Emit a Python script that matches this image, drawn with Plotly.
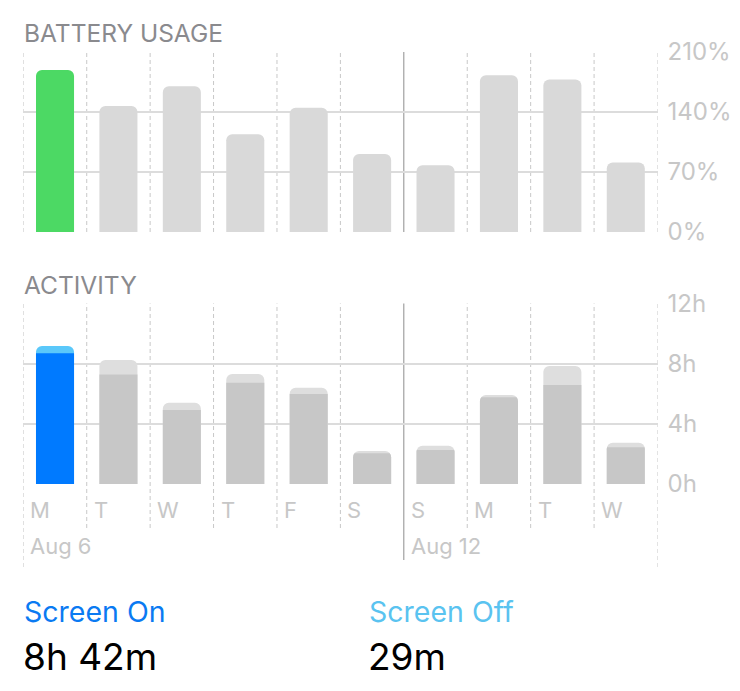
import plotly.graph_objects as go

# Chart data
day_labels = ["M", "T", "W", "T", "F", "S", "S", "M", "T", "W"]
week_labels = ["Aug 6", "Aug 12"]
week_starts = [0, 6]
battery_pct = [189, 147, 170, 114, 145, 91, 78, 183, 178, 81]
screen_on_h = [8.70, 7.28, 4.92, 6.73, 5.98, 2.04, 2.26, 5.76, 6.58, 2.44]
screen_off_h = [0.48, 0.96, 0.48, 0.58, 0.42, 0.15, 0.29, 0.15, 1.26, 0.31]
battery_ticks = [0, 70, 140, 210]
activity_ticks = [0, 4, 8, 12]
selected = 0

# the page body adds an 8px margin, so the figure is drawn that much smaller
# and every pixel position below is measured in window pixels
PAGE_MARGIN = 8
W, H = 740 - PAGE_MARGIN, 691 - PAGE_MARGIN
FONT = "Inter"


def px_y(p):
    return 1 - (p - PAGE_MARGIN) / H


def px_x(p):
    return (p - PAGE_MARGIN) / W


n = len(day_labels)
xs = list(range(n))
total_h = [a + b for a, b in zip(screen_on_h, screen_off_h)]

bat_colors = ["#4CD964" if i == selected else "#D9D9D9" for i in xs]
on_colors = ["#007AFF" if i == selected else "#C7C7C7" for i in xs]
off_colors = ["#5AC8FA" if i == selected else "#DEDEDE" for i in xs]

fig = go.Figure()

fig.add_trace(go.Bar(x=xs, y=battery_pct, marker=dict(color=bat_colors, cornerradius=6, line_width=0),
                     width=0.6, xaxis="x", yaxis="y", hoverinfo="skip"))
fig.add_trace(go.Bar(x=xs, y=total_h, marker=dict(color=off_colors, cornerradius=6, line_width=0),
                     width=0.6, xaxis="x2", yaxis="y2", hoverinfo="skip"))
fig.add_trace(go.Bar(x=xs, y=screen_on_h, marker=dict(color=on_colors, cornerradius=6, line_width=0),
                     width=0.6, xaxis="x2", yaxis="y2", hoverinfo="skip"))

xdom = [px_x(23.3), px_x(657.5)]
grid = "#DCDCDC"
tickfont = dict(family=FONT, size=24, color="#C7C7C7")

fig.update_layout(
    template="none",
    width=W, height=H,
    autosize=False,
    margin=dict(l=0, r=0, t=0, b=0, pad=0, autoexpand=False),
    paper_bgcolor="white", plot_bgcolor="white",
    showlegend=False, barmode="overlay",
    xaxis=dict(domain=xdom, range=[-0.5, n - 0.5], showgrid=False, zeroline=False,
               showticklabels=False, ticks="", showline=False, automargin=False, fixedrange=True),
    xaxis2=dict(domain=xdom, range=[-0.5, n - 0.5], showgrid=False, zeroline=False,
                showticklabels=False, ticks="", showline=False, anchor="y2",
                automargin=False, fixedrange=True),
    yaxis=dict(domain=[px_y(232), px_y(52)], range=[0, 210], side="right",
               tickvals=battery_ticks, ticktext=[f"{v}%" for v in battery_ticks],
               showgrid=True, gridcolor=grid, gridwidth=1.5, zeroline=False, ticks="",
               showline=False, tickfont=tickfont, ticklabelstandoff=9,
               automargin=False, fixedrange=True),
    yaxis2=dict(domain=[px_y(484), px_y(303.5)], range=[0, 12], side="right", anchor="x2",
                tickvals=activity_ticks, ticktext=[f"{v}h" for v in activity_ticks],
                showgrid=True, gridcolor=grid, gridwidth=1.5, zeroline=False, ticks="",
                showline=False, tickfont=tickfont, ticklabelstandoff=9,
                automargin=False, fixedrange=True),
)

# vertical separators
shapes = []
for i in range(n + 1):
    xv = i - 0.5
    week_line = i == 6
    line = dict(color="#8E8E8E", width=1) if week_line else dict(color="#C8C8C8", width=1, dash="4px,3px")
    shapes.append(dict(type="line", xref="x", yref="paper", x0=xv, x1=xv,
                       y0=px_y(232), y1=px_y(52), line=line, layer="below"))
    if week_line:
        bottom = 560
    elif i in (0, n):
        bottom = 567
    else:
        bottom = 528
    shapes.append(dict(type="line", xref="x2", yref="paper", x0=xv, x1=xv,
                       y0=px_y(bottom), y1=px_y(303.5), line=line, layer="below"))
fig.update_layout(shapes=shapes)

annotations = [
    dict(text="BATTERY USAGE", x=px_x(21.5), y=px_y(33), xanchor="left", yanchor="middle",
         font=dict(family=FONT, size=24.5, color="#8A8A8E")),
    dict(text="ACTIVITY", x=px_x(21.5), y=px_y(285), xanchor="left", yanchor="middle",
         font=dict(family=FONT, size=24.5, color="#8A8A8E")),
    dict(text="Screen On", x=px_x(21.5), y=px_y(611), xanchor="left", yanchor="middle",
         font=dict(family=FONT, size=28.5, color="#0A7AF2")),
    dict(text="Screen Off", x=px_x(366.5), y=px_y(611), xanchor="left", yanchor="middle",
         font=dict(family=FONT, size=28.5, color="#5AC3F0")),
    dict(text="8h 42m", x=px_x(20.5), y=px_y(656), xanchor="left", yanchor="middle",
         font=dict(family=FONT, size=37, color="#000000")),
    dict(text="29m", x=px_x(365.5), y=px_y(656), xanchor="left", yanchor="middle",
         font=dict(family=FONT, size=37, color="#000000")),
]
for i, lab in enumerate(day_labels):
    annotations.append(dict(text=lab, xref="x2", x=i - 0.5, xshift=5, y=px_y(510),
                            xanchor="left", yanchor="middle",
                            font=dict(family=FONT, size=22, color="#C7C7C7")))
for s, lab in zip(week_starts, week_labels):
    annotations.append(dict(text=lab, xref="x2", x=s - 0.5, xshift=5, y=px_y(546),
                            xanchor="left", yanchor="middle",
                            font=dict(family=FONT, size=22, color="#C7C7C7")))
for a in annotations:
    a.setdefault("xref", "paper")
    a["yref"] = "paper"
    a["showarrow"] = False
fig.update_layout(annotations=annotations)

fig.write_html("out.html", config={"displayModeBar": False})
